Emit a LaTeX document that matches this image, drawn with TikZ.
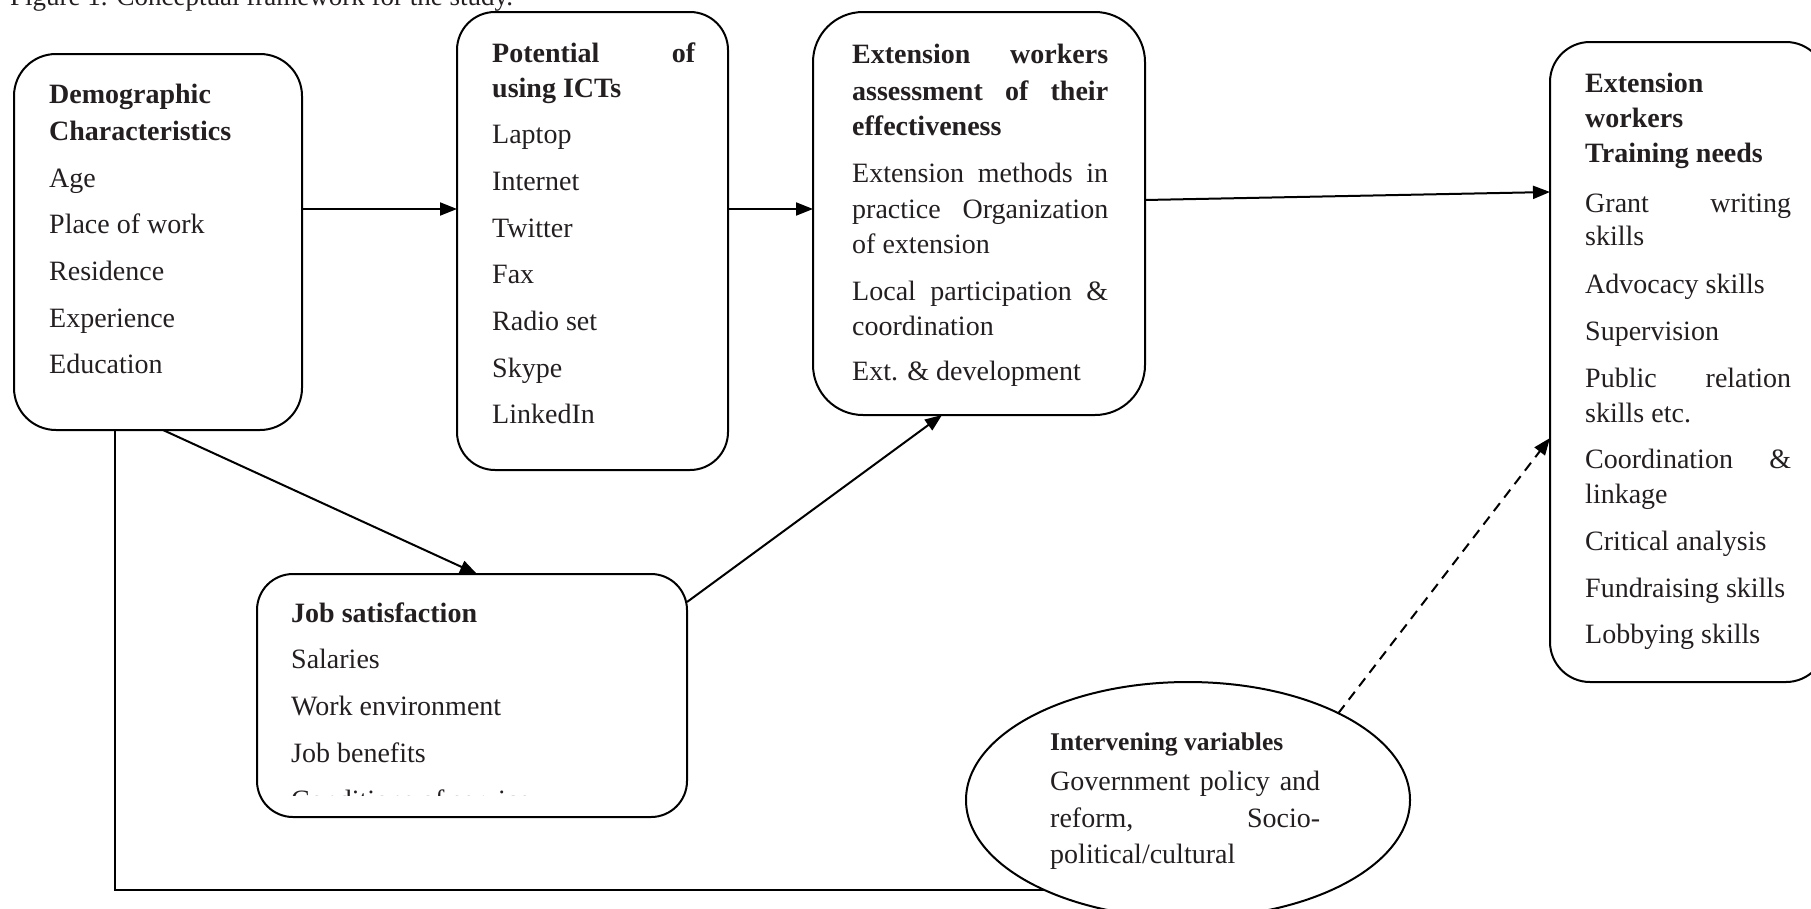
\documentclass[tikz,border=0pt]{standalone}
\usepackage{fontspec}
\setmainfont{Liberation Serif}
\usetikzlibrary{arrows.meta,shapes.geometric}
\definecolor{ink}{RGB}{35,31,32}
\begin{document}
\begin{tikzpicture}[x=1pt,y=-1pt,
  boxst/.style={draw=black, line width=2pt, rounded corners=#1, inner sep=0pt, outer sep=0pt},
  boxst/.default=40pt,
  ovalst/.style={draw=black, line width=2pt, ellipse, inner sep=0pt, outer sep=0pt},
  hd/.style={anchor=base west, inner sep=0pt, text=ink, font=\fontsize{28}{30}\selectfont\bfseries},
  hds/.style={anchor=base west, inner sep=0pt, text=ink, font=\fontsize{25.5}{28}\selectfont\bfseries},
  bd/.style={anchor=base west, inner sep=0pt, text=ink, font=\fontsize{28}{30}\selectfont},
  ttl/.style={anchor=base west, inner sep=0pt, text=ink, font=\fontsize{27}{30}\selectfont},
  arr/.style={-{Triangle[length=17pt,width=13pt]}, line width=2pt, draw=black},
  dasharr/.style={arr, dash pattern=on 10pt off 7pt}
]
\useasboundingbox (0,0) rectangle (1811,908);
\clip (0,0) rectangle (1811,908);

% title (cut at top)
\node[ttl] (title) at (10,5) {Figure 1. Conceptual framework for the study.};

% boxes
\node[boxst=42pt, minimum width=288pt, minimum height=376pt] (demo) at (158,242) {};
\node[boxst=38pt, minimum width=271pt, minimum height=458pt] (ict) at (592.5,241) {};
\node[boxst=50pt, minimum width=332pt, minimum height=403pt] (ext) at (979,213.5) {};
\node[boxst=40pt, minimum width=276pt, minimum height=640pt] (train) at (1688,362) {};
\node[boxst=36pt, minimum width=430pt, minimum height=243pt] (job) at (472,695.5) {};
\node[ovalst, minimum width=444pt, minimum height=236pt] (vars) at (1188,800) {};

% Demographic box text
\node[hd] (d1) at (49,103) {Demographic};
\node[hd] (d2) at (49,140) {Characteristics};
\node[bd] (d3) at (49,187) {Age};
\node[bd] (d4) at (49,233) {Place of work};
\node[bd] (d5) at (49,280) {Residence};
\node[bd] (d6) at (49,327) {Experience};
\node[bd] (d7) at (49,373) {Education};

% ICT box text
\node[hd] (i1) at (492,62) {\makebox[203pt][s]{Potential of}};
\node[hd] (i2) at (492,97) {using ICTs};
\node[bd] (i3) at (492,143) {Laptop};
\node[bd] (i4) at (492,190) {Internet};
\node[bd] (i5) at (492,237) {Twitter};
\node[bd] (i6) at (492,283) {Fax};
\node[bd] (i7) at (492,330) {Radio set};
\node[bd] (i8) at (492,377) {Skype};
\node[bd] (i9) at (492,423) {LinkedIn};

% Extension assessment box text
\node[hd] (e1) at (852,63) {\makebox[256pt][s]{Extension workers}};
\node[hd] (e2) at (852,100) {\makebox[256pt][s]{assessment of their}};
\node[hd] (e3) at (852,135) {effectiveness};
\node[bd] (e4) at (852,182) {\makebox[256pt][s]{Extension methods in}};
\node[bd] (e5) at (852,218) {\makebox[256pt][s]{practice Organization}};
\node[bd] (e6) at (852,253) {of extension};
\node[bd] (e7) at (852,300) {\makebox[256pt][s]{Local participation \&}};
\node[bd] (e8) at (852,335) {coordination};
\node[bd] (e9) at (852,380) {Ext. \& development};

% Training needs box text
\node[hd] (n1) at (1585,92) {Extension};
\node[hd] (n2) at (1585,127) {workers};
\node[hd] (n3) at (1585,162) {Training needs};
\node[bd] (n4) at (1585,212) {\makebox[206pt][s]{Grant writing}};
\node[bd] (n5) at (1585,245) {skills};
\node[bd] (n6) at (1585,293) {Advocacy skills};
\node[bd] (n7) at (1585,340) {Supervision};
\node[bd] (n8) at (1585,387) {\makebox[206pt][s]{Public relation}};
\node[bd] (n9) at (1585,422) {skills etc.};
\node[bd] (n10) at (1585,468) {\makebox[206pt][s]{Coordination \&}};
\node[bd] (n11) at (1585,503) {linkage};
\node[bd] (n12) at (1585,550) {Critical analysis};
\node[bd] (n13) at (1585,597) {Fundraising skills};
\node[bd] (n14) at (1585,643) {Lobbying skills};

% Job satisfaction box text
\node[hd] (j1) at (291,622) {Job satisfaction};
\node[bd] (j2) at (291,668) {Salaries};
\node[bd] (j3) at (291,715) {Work environment};
\node[bd] (j4) at (291,762) {Job benefits};
\begin{scope}
  \clip (257,574) rectangle (687,795);
  \node[bd] (j5) at (291,809) {Conditions of service};
\end{scope}

% Intervening variables text
\node[hds] (v1) at (1050,750) {Intervening variables};
\node[bd] (v2) at (1050,790) {\makebox[270pt][s]{Government policy and}};
\node[bd] (v3) at (1050,827) {\makebox[270pt][s]{reform, Socio-}};
\node[bd] (v4) at (1050,863) {political/cultural};

% connectors
\draw[arr] ([yshift=33pt]demo.east) -- ([yshift=32pt]ict.west);
\draw[arr] ([yshift=32pt]ict.east) -- ([yshift=4.5pt]ext.west);
\draw[arr] ([yshift=13.5pt]ext.east) -- ([yshift=170pt]train.west);
\draw[arr] ([xshift=5pt]demo.south) -- ([xshift=5pt]job.north);
\draw[arr] ([yshift=93.5pt]job.east) -- ([xshift=-37pt]ext.south);
\draw[dasharr] (vars.30) -- ([yshift=-76pt]train.west);
\draw[line width=2pt] ([xshift=-43pt]demo.south) |- (vars.212.8);
\end{tikzpicture}
\end{document}
